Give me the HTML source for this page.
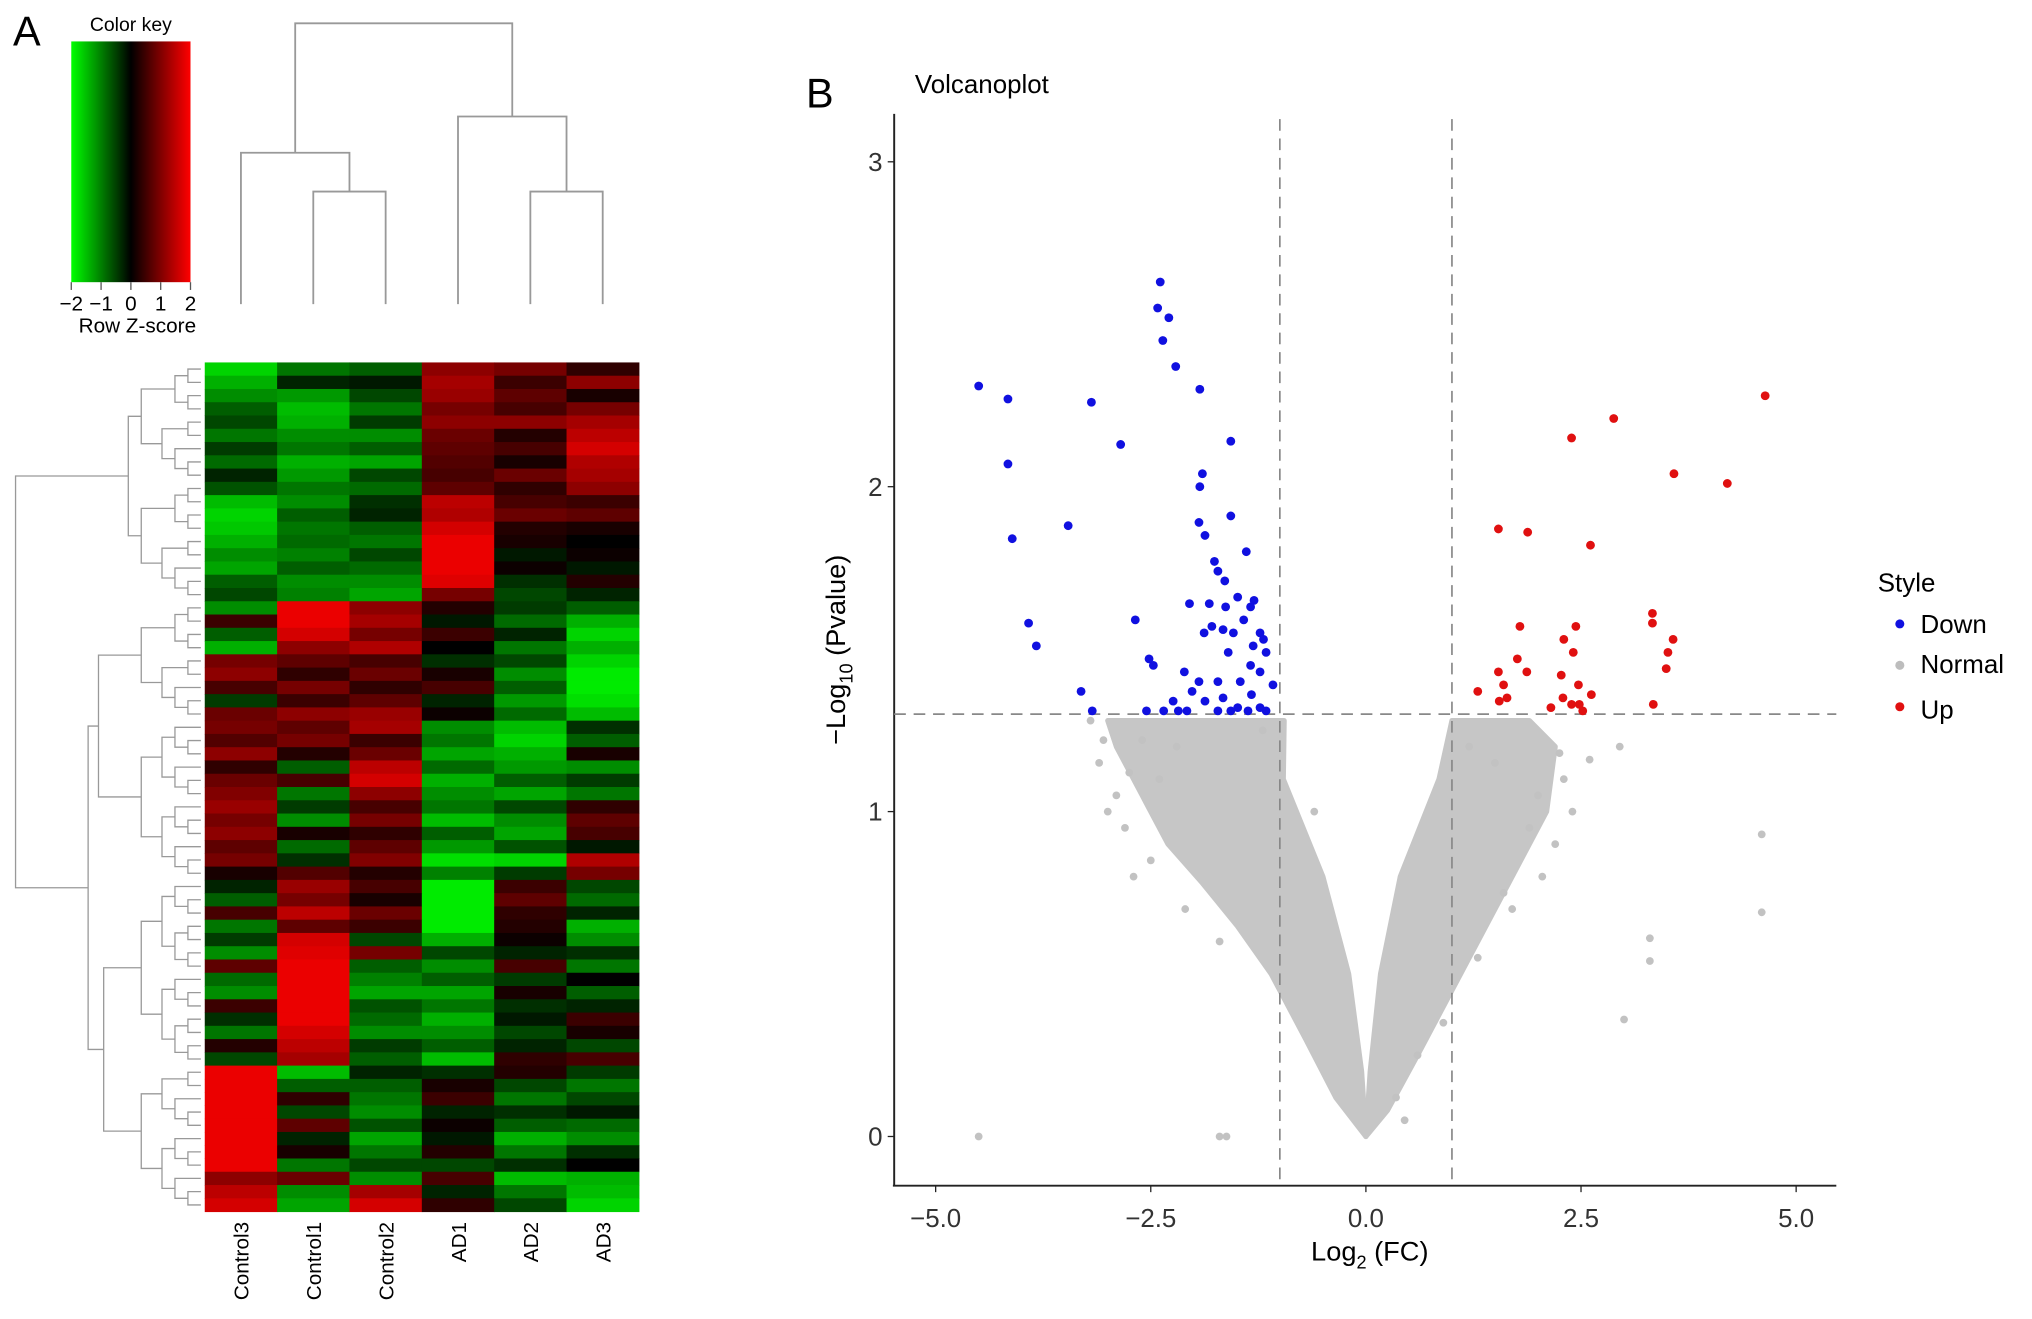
<!DOCTYPE html>
<html><head><meta charset="utf-8">
<style>
html,body{margin:0;padding:0;background:#fff;}
svg{display:block;font-family:"Liberation Sans",Arial,sans-serif;}
</style></head>
<body>
<svg id="fig" width="2032" height="1319" viewBox="0 0 1568 1019" preserveAspectRatio="none" xmlns="http://www.w3.org/2000/svg">
<defs>
<linearGradient id="ck" x1="0" x2="1" y1="0" y2="0">
<stop offset="0" stop-color="#00ff00"/><stop offset="0.5" stop-color="#000"/><stop offset="1" stop-color="#ff0000"/>
</linearGradient>
</defs>
<rect width="1568" height="1019" fill="#fff"/>
<text x="10" y="35" font-size="32">A</text>
<text x="622" y="83" font-size="32">B</text>
<g>
<text x="101" y="24" font-size="15" text-anchor="middle">Color key</text>
<rect x="55" y="32" width="92" height="186" fill="url(#ck)"/>
<g id="ckticks"></g>
<text x="106" y="257" font-size="16" text-anchor="middle">Row Z-score</text>
</g>
<g id="coldend" stroke="#999" stroke-width="1.4" fill="none"></g>
<g id="rowdend" stroke="#999" stroke-width="1" fill="none"></g>
<g id="heat"></g>
<g id="collabels"></g>
<text x="706" y="72" font-size="20">Volcanoplot</text>
<g id="volc"></g>
<g>
<text x="1449" y="457" font-size="20">Style</text>
<circle cx="1466" cy="482" r="3.5" fill="#1010e0"/>
<text x="1482" y="489" font-size="20">Down</text>
<circle cx="1466" cy="514" r="3.5" fill="#bdbdbd"/>
<text x="1482" y="520" font-size="20">Normal</text>
<circle cx="1466" cy="546" r="3.5" fill="#e01010"/>
<text x="1482" y="555" font-size="20">Up</text>
</g>
</svg>
<script>
const NS="http://www.w3.org/2000/svg";
const samples=["Control3","Control1","Control2","AD1","AD2","AD3"];
const keyTicks=[-2,-1,0,1,2];
const zrows=[
[-1.8,-1,-0.8,1.2,1,0.4],[-1.5,-0.3,-0.2,1.4,0.5,1.2],[-1.2,-1.3,-0.6,1.3,0.8,0.2],[-0.8,-1.6,-1.0,1.0,0.6,1.0],
[-0.6,-1.5,-0.5,1.2,1.2,1.4],[-1.0,-1.2,-1.2,0.9,0.3,1.6],[-0.5,-1.0,-0.8,0.8,0.6,1.8],[-0.9,-1.5,-1.4,0.7,0.2,1.5],
[-0.3,-1.3,-0.6,0.6,0.9,1.4],[-0.7,-1.0,-0.9,0.8,0.4,1.2],[-1.6,-1.2,-0.4,1.6,0.6,0.5],[-1.8,-0.8,-0.3,1.5,0.9,0.8],
[-1.7,-1.0,-0.8,1.8,0.3,0.2],[-1.5,-0.9,-1.0,2,0.2,0],[-1.2,-1.1,-0.6,2,-0.2,0.1],[-1.4,-0.8,-0.9,2,0.1,-0.2],
[-0.8,-1.2,-1.2,1.9,-0.4,0.3],[-0.6,-1.1,-1.4,1.0,-0.6,-0.3],
[-1.2,2,1.2,0.3,-0.5,-0.8],[0.5,2,1.4,-0.2,-0.9,-1.5],[-0.8,1.8,1.0,0.5,-0.3,-1.8],[-1.5,1.2,1.5,0,-1,-1.5],
[1.0,0.8,0.6,-0.4,-0.6,-1.8],[1.2,0.4,0.9,0.2,-1.2,-2],[0.6,1.0,0.4,0.6,-0.8,-2],[-0.5,0.5,0.8,-0.3,-1.3,-1.9],
[0.9,1.2,1.3,0.1,-0.9,-1.6],
[1.0,0.8,1.4,-1.2,-1.6,-0.4],[0.7,1.0,0.5,-1.0,-1.8,-0.8],[1.2,0.3,0.9,-1.4,-1.5,0.2],[0.4,-0.8,1.6,-0.9,-1.3,-1.2],
[0.9,0.6,1.8,-1.5,-0.8,-0.5],[1.1,-1.0,1.2,-1.2,-1.4,-1.0],[1.3,-0.5,0.6,-1.0,-0.6,0.4],[1.0,-1.2,1.0,-1.6,-1.2,0.8],
[1.2,0.2,0.4,-0.8,-1.4,0.6],[0.8,-0.9,0.8,-1.3,-0.7,-0.2],[1.0,-0.4,1.1,-1.9,-1.8,1.5],[0.2,0.7,0.3,-1.1,-0.5,1.0],
[-0.3,1.3,0.6,-2,0.5,-0.6],[-0.8,1.0,0.2,-2,0.8,-0.9],[0.6,1.6,0.9,-2,0.4,-0.3],[-1.0,0.8,0.5,-2,0.3,-1.5],
[-0.5,1.8,-0.6,-1.5,0.1,-1.2],[-1.2,1.9,1.0,-0.6,-0.3,-0.4],[0.8,2,-0.8,-1.2,0.6,-1.0],[-0.9,2,-1.1,-0.8,-0.5,0],
[-1.2,2,-1.4,-1.4,0.2,-0.8],[0.5,2,-0.7,-1.0,-0.4,-0.3],[-0.4,2,-0.9,-1.5,-0.2,0.5],[-1.0,1.8,-1.2,-1.2,-0.6,0.2],
[0.3,1.6,-0.5,-0.8,-0.3,-0.6],[-0.6,1.4,-0.8,-1.6,0.4,0.6],
[2,-1.6,-0.3,-0.4,0.3,-0.5],[2,-0.8,-0.8,0.2,-0.6,-1.0],[2,0.4,-1.0,0.5,-1.0,-0.6],[2,-0.6,-1.2,-0.3,-0.4,-0.2],
[2,0.8,-0.7,0.1,-0.8,-0.9],[2,-0.3,-1.4,-0.2,-1.5,-1.2],[2,0.2,-1.0,0.3,-1.0,-0.4],[2,-1.0,-0.6,-0.6,-0.4,0],
[1.2,0.9,-1.2,0.6,-1.6,-1.5],[1.6,-1.2,1.4,-0.3,-1,-1.6],[1.8,-1.4,1.8,0.4,-0.6,-1.8]
];
const rowBlocks=[0,18,27,39,53,64];
const xTicks=[-5,-2.5,0,2.5,5];
const xTickLabels=["\u22125.0","\u22122.5","0.0","2.5","5.0"];
const yTicks=[0,1,2,3];
const fcCut=[-1,1];
const pCut=1.3;
const downX=[-4.50,-4.16,-4.16,-4.11,-3.92,-3.83,-3.19,-3.46,-2.85,-3.31,-3.18,-2.39,-2.42,-2.29,-2.36,-2.21,-1.93,-2.68,-2.52,-2.47,-2.55,-1.57,-1.90,-1.93,-1.94,-1.87,-1.57,-1.76,-1.39,-1.72,-1.64,-2.05,-1.82,-1.63,-1.49,-1.30,-1.34,-1.42,-1.79,-1.66,-1.88,-1.54,-1.23,-1.31,-1.19,-1.16,-1.60,-1.34,-1.23,-2.11,-1.94,-1.72,-1.46,-1.08,-1.33,-1.66,-1.87,-1.49,-1.23,-2.18,-2.08,-1.72,-1.57,-1.37,-1.16,-2.35,-2.24,-2.02];
const downY=[2.31,2.27,2.07,1.84,1.58,1.51,2.26,1.88,2.13,1.37,1.31,2.63,2.55,2.52,2.45,2.37,2.30,1.59,1.47,1.45,1.31,2.14,2.04,2.00,1.89,1.85,1.91,1.77,1.80,1.74,1.71,1.64,1.64,1.63,1.66,1.65,1.63,1.59,1.57,1.56,1.55,1.55,1.55,1.51,1.53,1.49,1.49,1.45,1.43,1.43,1.40,1.40,1.40,1.39,1.36,1.35,1.34,1.32,1.32,1.31,1.31,1.31,1.31,1.31,1.31,1.31,1.34,1.37];
const upX=[4.64,2.88,2.39,3.58,4.20,1.54,1.88,2.61,3.33,3.33,1.79,2.44,3.57,2.30,1.76,2.41,3.51,1.54,1.87,3.49,2.27,1.60,2.47,1.30,2.62,2.29,1.55,1.64,3.34,2.39,2.15,2.52,2.48];
const upY=[2.28,2.21,2.15,2.04,2.01,1.87,1.86,1.82,1.61,1.58,1.57,1.57,1.53,1.53,1.47,1.49,1.49,1.43,1.43,1.44,1.42,1.39,1.39,1.37,1.36,1.35,1.34,1.35,1.33,1.33,1.32,1.31,1.33];
const normalLeftX=[0,-0.35,-0.7,-1.1,-1.5,-1.9,-2.3,-2.6,-2.9,-3.0,-0.95,-0.96,-0.5,-0.2,-0.05];
const normalLeftY=[0,0.12,0.3,0.5,0.65,0.78,0.9,1.05,1.2,1.28,1.28,1.1,0.8,0.5,0.2];
const normalRightX=[0,0.05,0.17,0.4,0.85,1.0,1.9,2.2,2.1,1.8,1.4,1.0,0.6,0.25];
const normalRightY=[0,0.2,0.5,0.8,1.1,1.28,1.28,1.2,1.0,0.85,0.65,0.45,0.25,0.08];
const normalX=[-4.5,-1.7,-1.62,4.6,4.6,3.3,3.3,3.0,0.35,0.6,0.45,2.6,2.95,2.0,2.3,-3.1,-2.7,-2.9,-3.2,-2.6,-2.2,-2.4,-3.0,1.9,2.2,2.4,1.6,-1.2,-0.6,1.2,1.5,-2.8,-2.5,-2.1,-1.7,1.7,2.05,2.25,1.3,0.9,-3.05,-2.75];
const normalY=[0,0,0,0.93,0.69,0.61,0.54,0.36,0.12,0.25,0.05,1.16,1.2,1.05,1.1,1.15,0.8,1.05,1.28,1.22,1.2,1.1,1.0,0.95,0.9,1.0,0.75,1.25,1.0,1.2,1.15,0.95,0.85,0.7,0.6,0.7,0.8,1.18,0.55,0.35,1.22,1.12];

function el(tag,attrs,parent,text){const e=document.createElementNS(NS,tag);for(const k in attrs)e.setAttribute(k,attrs[k]);if(text!==undefined)e.textContent=text;parent.appendChild(e);return e;}

const ckG=document.getElementById('ckticks');
const ckX=v=>55+(v+2)/4*92;
keyTicks.forEach(v=>{
  const l=el('line',{x1:ckX(v),x2:ckX(v),y1:218,y2:224,stroke:'#555'},ckG);
  
  
  const t=el('text',{x:ckX(v),y:240,'font-size':16,'text-anchor':'middle'},ckG,v<0?'\u2212'+Math.abs(v):String(v));
  
  
});

const HX0=158,HX1=493,HY0=280,HY1=936;
const cw=(HX1-HX0)/samples.length, rh=(HY1-HY0)/zrows.length;
function zcol(z){z=Math.max(-2,Math.min(2,z));const t=Math.abs(z)/2;const c=Math.round(235*t);return z<0?`rgb(0,${c},0)`:`rgb(${c},0,0)`;}
const heat=document.getElementById('heat');
zrows.forEach((row,i)=>row.forEach((z,j)=>{
  const r=el('rect',{x:HX0+j*cw,y:HY0+i*rh,width:cw+0.4,height:rh+0.4,fill:zcol(z)},heat);
  
  
}));
const cl=document.getElementById('collabels');
samples.forEach((s,j)=>{
  const x=HX0+(j+0.5)*cw+6;
  const t=el('text',{x:x,y:944,'font-size':16,'text-anchor':'end',transform:`rotate(-90 ${x} 944)`},cl,s);
  
  
});
const cd=document.getElementById('coldend');
const cx=j=>HX0+(j+0.5)*cw;
function u(xa,ya,xb,yb,ytop,g){el('path',{d:`M${xa} ${ya}V${ytop}H${xb}V${yb}`},g);}
u(cx(1),235,cx(2),235,148,cd);
u(cx(0),235,(cx(1)+cx(2))/2,148,118,cd);
u(cx(4),235,cx(5),235,148,cd);
u(cx(3),235,(cx(4)+cx(5))/2,148,90,cd);
u((cx(0)+(cx(1)+cx(2))/2)/2,118,(cx(3)+(cx(4)+cx(5))/2)/2,90,18,cd);
const rd=document.getElementById('rowdend');
const ry=i=>HY0+(i+0.5)*rh;
function sub(lo,hi){
  if(hi-lo===1)return {x:155,y:ry(lo)};
  const m=Math.floor((lo+hi)/2);const a=sub(lo,m),b=sub(m,hi);
  const x=155-10*Math.ceil(Math.log2(hi-lo))-(hi-lo>8?6:0);
  el('path',{d:`M${a.x} ${a.y}H${x}V${b.y}H${b.x}`},rd);
  return {x:x,y:(a.y+b.y)/2};
}
const bl=[];for(let k=0;k<rowBlocks.length-1;k++)bl.push(sub(rowBlocks[k],rowBlocks[k+1]));
function join(a,b,x){el('path',{d:`M${a.x} ${a.y}H${x}V${b.y}H${b.x}`},rd);return {x:x,y:(a.y+b.y)/2};}
const n12=join(bl[1],bl[2],76);
const n34=join(bl[3],bl[4],80);
const n1234=join(n12,n34,68);
join(bl[0],n1234,12);

const V=document.getElementById('volc');
const X=v=>1054+v*66.4, Y=v=>878-v*251;
el('line',{x1:690,x2:690,y1:88,y2:916,stroke:'#222','stroke-width':1.5},V);
el('line',{x1:689,x2:1417,y1:916,y2:916,stroke:'#222','stroke-width':1.5},V);
xTicks.forEach((v,i)=>{
  el('line',{x1:X(v),x2:X(v),y1:916,y2:921,stroke:'#222'},V);
  const t=el('text',{x:X(v),y:948,'font-size':20,'text-anchor':'middle',fill:'#333'},V,xTickLabels[i]);
  
  
});
yTicks.forEach(v=>{
  el('line',{x1:685,x2:690,y1:Y(v),y2:Y(v),stroke:'#222'},V);
  const t=el('text',{x:681,y:Y(v)+7,'font-size':20,'text-anchor':'end',fill:'#333'},V,String(v));
  
  
});
const xt=el('text',{x:1057,y:974,'font-size':21,'text-anchor':'middle'},V);


xt.innerHTML='Log<tspan font-size="14" dy="6">2</tspan><tspan dy="-6"> (FC)</tspan>';
const yt=el('text',{x:0,y:0,'font-size':21,'text-anchor':'middle',transform:'translate(652 502) rotate(-90)'},V);


yt.innerHTML='\u2212Log<tspan font-size="14" dy="6">10</tspan><tspan dy="-6"> (Pvalue)</tspan>';
function poly(xs,ys,name){const p=el('polygon',{points:xs.map((x,i)=>X(x)+','+Y(ys[i])).join(' '),fill:'#c6c6c6',stroke:'#c6c6c6','stroke-width':4,'stroke-linejoin':'round'},V);
  
  }
poly(normalLeftX,normalLeftY,'normal-cloud-left');
poly(normalRightX,normalRightY,'normal-cloud-right');
normalX.forEach((x,i)=>{const c=el('circle',{cx:X(x),cy:Y(normalY[i]),r:3,fill:'#c2c2c2'},V);
  
  });
fcCut.forEach(v=>{const l=el('line',{x1:X(v),x2:X(v),y1:92,y2:916,stroke:'#888','stroke-width':1.3,'stroke-dasharray':'9 6'},V);
  
  });
const hl=el('line',{x1:690,x2:1417,y1:Y(pCut),y2:Y(pCut),stroke:'#888','stroke-width':1.3,'stroke-dasharray':'9 6'},V);


downX.forEach((x,i)=>{const c=el('circle',{cx:X(x),cy:Y(downY[i]),r:3.4,fill:'#1010e0'},V);
  
  });
upX.forEach((x,i)=>{const c=el('circle',{cx:X(x),cy:Y(upY[i]),r:3.4,fill:'#e01010'},V);
  
  });
</script>
</body></html>
